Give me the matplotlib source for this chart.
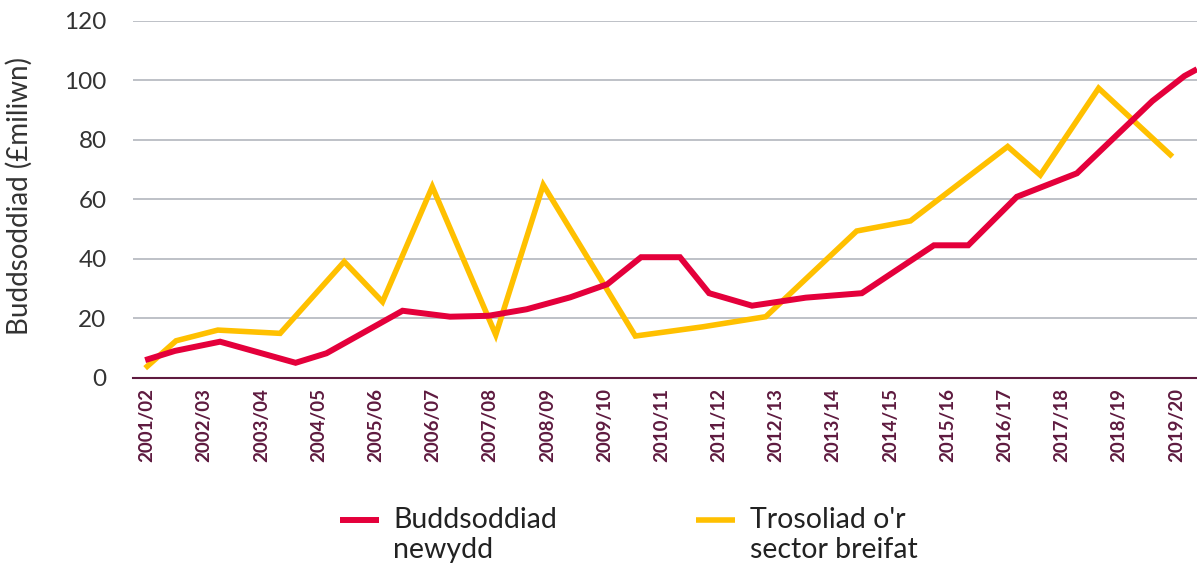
import numpy as np
import matplotlib
matplotlib.use("Agg")
from matplotlib import pyplot as plt

plt.rcParams['font.family'] = ['Lato', 'DejaVu Sans']

# category labels along the x axis (one per financial year)
years = ["2001/02", "2002/03", "2003/04", "2004/05", "2005/06", "2006/07", "2007/08",
         "2008/09", "2009/10", "2010/11", "2011/12", "2012/13", "2013/14", "2014/15",
         "2015/16", "2016/17", "2017/18", "2018/19", "2019/20"]

# new investment (red) - vertices, x in year-index units
new_x = [-0.03, 0.49, 1.28, 2.60, 3.14, 4.47, 5.30, 5.97, 6.64, 7.40, 8.05, 8.64,
         9.32, 9.83, 10.58, 11.52, 12.50, 13.76, 14.36, 15.21, 16.26, 17.58, 18.14, 18.36]
new_y = [6.0, 9.1, 12.2, 5.1, 8.3, 22.6, 20.6, 20.9, 23.1, 27.1, 31.5, 40.6,
         40.6, 28.5, 24.3, 27.0, 28.5, 44.6, 44.6, 60.9, 68.8, 93.1, 101.5, 103.8]

# private sector leverage (yellow)
lev_x = [-0.03, 0.51, 1.24, 2.33, 3.45, 4.12, 4.99, 6.10, 6.93, 8.54, 9.72, 10.82,
         12.41, 13.35, 15.05, 15.62, 16.64, 17.93]
lev_y = [3.3, 12.5, 16.1, 15.0, 39.1, 25.6, 64.3, 14.5, 64.9, 14.1, 17.2, 20.6,
         49.4, 52.8, 77.8, 68.2, 97.4, 74.4]

labels = ["Buddsoddiad\nnewydd", "Trosoliad o'r\nsector breifat"]
red = "#E4003B"
yellow = "#FFC000"
maroon = "#5E1A3F"

fig = plt.figure(figsize=(11.97, 5.66), dpi=100)
ax = fig.add_axes([0.1111, 0.3322, 0.8889, 0.6307])

ax.plot(new_x, new_y, color=red, lw=4.3, solid_joinstyle='miter', solid_capstyle='butt',
        label=labels[0], zorder=3, clip_on=False)
ax.plot(lev_x, lev_y, color=yellow, lw=4.0, solid_joinstyle='miter', solid_capstyle='butt',
        label=labels[1], zorder=2, clip_on=False)

ax.set_xlim(-0.243, 18.36)
ax.set_ylim(0, 120)
ax.set_yticks(np.arange(0, 121, 20))
ax.set_xticks(range(len(years)))
ax.set_xticklabels(years, rotation=90, fontsize=13.5, fontweight='bold', color=maroon)
ax.tick_params(axis='x', length=0, pad=7)
ax.tick_params(axis='y', length=0, pad=19, labelsize=17.5, labelcolor="#333333")

ax.grid(axis='y', color="#B3B6BD", lw=1.2)
ax.set_axisbelow(True)
for s in ['top', 'right', 'left']:
    ax.spines[s].set_visible(False)
ax.spines['bottom'].set_color(maroon)
ax.spines['bottom'].set_linewidth(1.5)
ax.spines['bottom'].set_zorder(4)

ax.set_ylabel("Buddsoddiad (£miliwn)", fontsize=20, color="#333333", labelpad=16)
ax.yaxis.set_label_coords(-0.094, 0.51)

# taller handle box so the swatch sits beside the first line of each label
fig.legend(loc='upper left', bbox_to_anchor=(0.272, 0.152), ncol=2, frameon=False,
           fontsize=20.5, handlelength=1.37, handleheight=4.39, handletextpad=0.5,
           columnspacing=4.9, borderpad=0, labelcolor="#222222")

fig.savefig("out.png", dpi=100)
